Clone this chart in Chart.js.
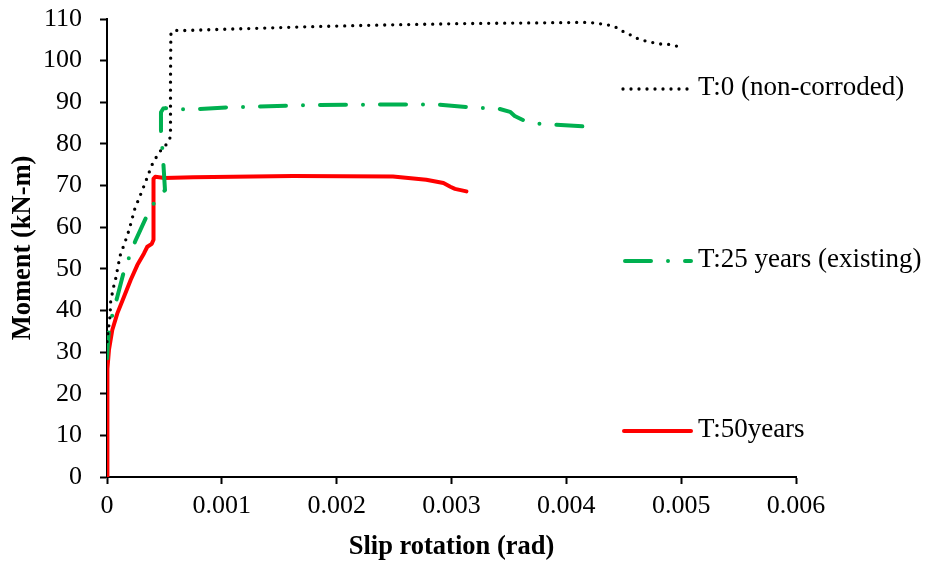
<!DOCTYPE html>
<html>
<head>
<meta charset="utf-8">
<title>Moment vs slip rotation</title>
<script src="https://cdn.jsdelivr.net/npm/chart.js@4.4.1/dist/chart.umd.min.js"></script>
<style>
  html, body { margin: 0; padding: 0; background: #ffffff; }
  #wrap { width: 925px; height: 564px; }
</style>
</head>
<body>
<div id="wrap"><canvas id="chart" width="925" height="564"></canvas></div>
<script>
// Slip rotation (rad) and moment (kN-m) for each corrosion stage
const t0Rotation = [0, 0.000009, 0.000017, 0.000026, 0.000032, 0.000046, 0.000061, 0.000076, 0.00009, 0.000104,
  0.000119, 0.000148, 0.000192, 0.000244, 0.000273, 0.000325, 0.000374, 0.000403, 0.00047, 0.000525,
  0.000553, 0.000553, 0.000556, 0.00058, 0.00063,
  0.0011, 0.0017, 0.0023, 0.0031, 0.0035, 0.0042,
  0.00436, 0.00442, 0.00448, 0.00455, 0.00461, 0.00468, 0.00474, 0.00482, 0.00489, 0.00496];
const t0Moment = [32.5, 34.9, 36.5, 38.5, 42.1, 44.1, 46.1, 47.7, 49.7, 51.7,
  53.7, 55.7, 59.3, 64.6, 66.5, 70.1, 73.7, 75.7, 78.5, 80.1,
  81.7, 95, 106.3, 107.3, 107.2,
  107.6, 108.1, 108.5, 108.9, 109.0, 109.2,
  108.6, 108.2, 107.2, 106.3, 105.4, 104.8, 104.4, 104.0, 103.9, 103.5];

const t25Rotation = [0, 0.00001, 0.00002, 0.00005, 0.00009,
  0.00015, 0.0002, 0.00025, 0.00029, 0.00035,
  0.00042, 0.000505, 0.00049, 0.00048, 0.00047,
  0.00047, 0.00049, 0.00051, 0.00067, 0.00081,
  0.00107, 0.00133, 0.00172, 0.00212, 0.00264,
  0.0029, 0.00316, 0.00342, 0.00351, 0.00355,
  0.00364, 0.00378, 0.00391, 0.00416];
const t25Moment = [28.5, 33, 36, 39.3, 43.3,
  49.7, 53.3, 56.9, 59.3, 62.9,
  66.3, 68.9, 75.7, 79.7, 83.3,
  87.6, 88.5, 88.6, 88.3, 88.4,
  88.8, 89.0, 89.3, 89.4, 89.5,
  89.4, 88.8, 88.4, 87.7, 86.7,
  85.5, 84.8, 84.6, 84.2];

const t50Rotation = [0, 0.000002, 0.000005, 0.000017, 0.000046, 0.00009, 0.000148, 0.000206, 0.000264, 0.000322,
  0.000351, 0.00039, 0.000405, 0.000405, 0.000405, 0.00042, 0.0005, 0.00075, 0.00162, 0.00249,
  0.00278, 0.00293, 0.00299, 0.00303, 0.00313];
const t50Moment = [0, 20, 26, 30.5, 35.3, 39.3, 43.3, 47.3, 50.9, 53.7,
  55.3, 56.0, 57, 65, 71.6, 72.1, 71.8, 72.0, 72.3, 72.2,
  71.4, 70.6, 69.7, 69.2, 68.6];

const seriesNames = ['T:0 (non-corroded)', 'T:25 years (existing)', 'T:50years'];
const xTickLabels = ['0', '0.001', '0.002', '0.003', '0.004', '0.005', '0.006'];
const yTickLabels = ['0', '10', '20', '30', '40', '50', '60', '70', '80', '90', '100', '110'];

const toPoints = (xs, ys) => xs.map((x, i) => ({ x: x, y: ys[i] }));

const SERIF = "'Liberation Serif', 'Times New Roman', serif";
Chart.defaults.font.family = SERIF;
Chart.defaults.color = '#000000';

// Legend drawn as three separate rows beside the curves
const sideLegend = {
  id: 'sideLegend',
  afterDraw(chart) {
    const ctx = chart.ctx;
    const rows = [
      { y: 89, x0: 623, x1: 690 },
      { y: 261, x0: 625, x1: 691 },
      { y: 431, x0: 624, x1: 691 }
    ];
    chart.data.datasets.forEach((ds, i) => {
      const r = rows[i];
      ctx.save();
      ctx.strokeStyle = ds.borderColor;
      ctx.lineWidth = ds.borderWidth;
      ctx.lineCap = ds.borderCapStyle || 'butt';
      ctx.setLineDash(ds.borderDash || []);
      ctx.beginPath();
      ctx.moveTo(r.x0, r.y);
      ctx.lineTo(r.x1, r.y);
      ctx.stroke();
      ctx.setLineDash([]);
      ctx.fillStyle = '#000000';
      ctx.font = '27px ' + SERIF;
      ctx.textAlign = 'left';
      ctx.textBaseline = 'middle';
      ctx.fillText(ds.label, 698, r.y - 1);
      ctx.restore();
    });
  }
};

// Fixed axis boxes so the plot area spans the same pixels every time
function fixX(scale) {
  scale.height = 87;
  scale.paddingLeft = 0;
  scale.paddingRight = 0;
}
function fixY(scale) {
  scale.width = 107;
  scale.paddingTop = 0;
  scale.paddingBottom = 0;
}

new Chart(document.getElementById('chart'), {
  type: 'scatter',
  data: {
    datasets: [
      {
        label: seriesNames[0],
        data: toPoints(t0Rotation, t0Moment),
        showLine: true,
        borderColor: '#000000',
        borderWidth: 3.3,
        borderDash: [0, 8],
        borderCapStyle: 'round',
        borderJoinStyle: 'round',
        pointRadius: 0,
        tension: 0
      },
      {
        label: seriesNames[1],
        data: toPoints(t25Rotation, t25Moment),
        showLine: true,
        borderColor: '#00b050',
        borderWidth: 4,
        borderDash: [26, 17, 0, 17],
        borderCapStyle: 'round',
        borderJoinStyle: 'round',
        pointRadius: 0,
        tension: 0
      },
      {
        label: seriesNames[2],
        data: toPoints(t50Rotation, t50Moment),
        showLine: true,
        borderColor: '#ff0000',
        borderWidth: 4,
        borderCapStyle: 'round',
        borderJoinStyle: 'round',
        pointRadius: 0,
        tension: 0
      }
    ]
  },
  options: {
    responsive: false,
    animation: false,
    events: [],
    layout: { padding: { left: 0, right: 129, top: 19, bottom: 0 } },
    plugins: {
      legend: { display: false },
      tooltip: { enabled: false }
    },
    scales: {
      x: {
        type: 'linear',
        min: 0,
        max: 0.006,
        afterFit: fixX,
        afterBuildTicks(scale) {
          scale.ticks = xTickLabels.map(t => ({ value: parseFloat(t) }));
        },
        ticks: {
          autoSkip: false,
          maxRotation: 0,
          padding: 7,
          color: '#000000',
          font: { size: 26 },
          callback: (v, i) => xTickLabels[i]
        },
        grid: { display: true, drawOnChartArea: false, drawTicks: true, tickLength: 7, tickWidth: 2, tickColor: '#000000' },
        border: { display: true, color: '#000000', width: 2 },
        title: {
          display: true,
          text: 'Slip rotation (rad)',
          color: '#000000',
          font: { size: 26.5, weight: 'bold' },
          padding: { top: 0, bottom: 1 }
        }
      },
      y: {
        type: 'linear',
        min: 0,
        max: 110,
        afterFit: fixY,
        afterBuildTicks(scale) {
          scale.ticks = yTickLabels.map(t => ({ value: parseFloat(t) }));
        },
        ticks: {
          autoSkip: false,
          padding: 18,
          color: '#000000',
          font: { size: 26 },
          callback: (v, i) => yTickLabels[i]
        },
        grid: { display: true, drawOnChartArea: false, drawTicks: true, tickLength: 7, tickWidth: 2, tickColor: '#000000' },
        border: { display: true, color: '#000000', width: 2 },
        title: {
          display: true,
          text: 'Moment (kN-m)',
          color: '#000000',
          font: { size: 26.5, weight: 'bold' },
          padding: { top: 7, bottom: 0 }
        }
      }
    }
  },
  plugins: [sideLegend]
});
</script>
</body>
</html>
